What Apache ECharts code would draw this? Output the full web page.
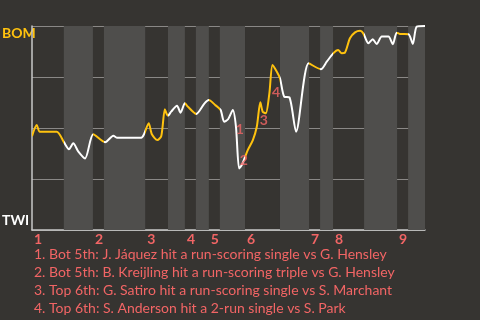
<!DOCTYPE html>
<html><head><meta charset="utf-8">
<style>html,body{margin:0;padding:0;background:#363431;}#c{width:480px;height:320px;}</style>
<script src="https://cdn.jsdelivr.net/npm/echarts@6/dist/echarts.min.js"></script>
</head><body><div id="c"></div>
<script>
// Game progress (0-100) and BOM win probability
const progress = [0,1.2,2.0,6.3,8.2,9.4,10.5,11.8,13.5,15.6,18.6,20.7,21.7,27.8,28.5,29.7,30.5,31.9,32.9,33.8,34.2,34.6,35.4,36.9,37.8,38.9,39.7,41.8,43.9,45.0,46.6,48.0,48.9,49.9,51.1,51.9,52.7,53.4,54.9,56.2,57.2,58.1,58.7,59.5,60.4,61.2,62.3,63.1,64.2,65.5,67.2,70.4,73.5,75.0,76.7,77.9,78.8,79.6,80.9,82.2,83.5,84.3,85.6,86.7,87.7,89.0,90.7,91.8,92.8,93.6,95.8,96.9,97.9,100];
const bomWinProb = [0.46,0.515,0.482,0.482,0.428,0.396,0.425,0.384,0.351,0.469,0.430,0.462,0.452,0.452,0.469,0.523,0.469,0.441,0.461,0.592,0.572,0.560,0.580,0.609,0.575,0.621,0.604,0.569,0.621,0.637,0.613,0.588,0.531,0.543,0.588,0.506,0.302,0.319,0.392,0.441,0.506,0.626,0.580,0.572,0.670,0.809,0.776,0.744,0.653,0.650,0.482,0.817,0.788,0.825,0.867,0.882,0.867,0.869,0.940,0.969,0.977,0.964,0.915,0.935,0.912,0.948,0.948,0.911,0.967,0.961,0.960,0.912,0.997,1.0];
// Half-inning boundaries (top of 1 ... bottom of 9)
const halfInningStarts = [0,8.1,15.5,18.3,28.8,34.6,38.9,41.7,45.0,47.8,54.2,63.1,70.5,73.3,76.6,84.5,92.9,95.7];
const gameEnd = 100;
const inningLabels = ['1','2','3','4','5','6','7','8','9'];
// Key play annotations
const eventNums = ['1','2','3','4'];
const eventX = [52.9,53.9,59.0,62.1];
const eventY = [0.495,0.343,0.539,0.676];
const eventTexts = [
  '1. Bot 5th: J. Jáquez hit a run-scoring single vs G. Hensley',
  '2. Bot 5th: B. Kreijling hit a run-scoring triple vs G. Hensley',
  '3. Top 6th: G. Satiro hit a run-scoring single vs S. Marchant',
  '4. Top 6th: S. Anderson hit a 2-run single vs S. Park'
];
const teamTop = 'BOM', teamBottom = 'TWI';

const YELLOW = '#ffc20e', WHITE = '#ffffff', RED = '#f26565';
const FONT = 'Lato';

const bands = [], pieces = [];
for (let i = 0; i < halfInningStarts.length; i++) {
  const a = halfInningStarts[i], b = i + 1 < halfInningStarts.length ? halfInningStarts[i+1] : gameEnd;
  const top = i % 2 === 0;
  if (!top) bands.push([{xAxis: a}, {xAxis: b}]);
  pieces.push({gte: a, lt: (i + 1 < halfInningStarts.length ? b : gameEnd + 1), color: top ? YELLOW : WHITE});
}
const inningStarts = halfInningStarts.filter((v, i) => i % 2 === 0);

const chart = echarts.init(document.getElementById('c'), null, {renderer: 'canvas'});
chart.setOption({
  backgroundColor: '#363431',
  animation: false,
  grid: {left: 32, right: 55, top: 26, bottom: 90},
  xAxis: {
    type: 'value', min: 0, max: gameEnd,
    axisLine: {show: true, lineStyle: {color: '#c8c8c8', width: 1.5}},
    axisTick: {show: false},
    splitLine: {show: false},
    axisLabel: {
      customValues: inningStarts,
      formatter: (v) => inningLabels[inningStarts.findIndex(s => Math.abs(s - v) < 1e-6)] || '',
      color: RED, fontFamily: FONT, fontWeight: 'bold', fontSize: 14, align: 'left', margin: 2,
      padding: [0,0,0,2]
    }
  },
  yAxis: {
    type: 'value', min: 0, max: 1, interval: 0.25,
    axisLine: {show: true, lineStyle: {color: '#c8c8c8', width: 1.5}},
    axisTick: {show: false},
    axisLabel: {show: false},
    splitLine: {show: true, lineStyle: {color: '#8a8886', width: 1.2}}
  },
  visualMap: {show: false, type: 'piecewise', dimension: 0, seriesIndex: 0, pieces: pieces},
  series: [
    {
      type: 'line',
      data: progress.map((x, i) => [x, bomWinProb[i]]),
      showSymbol: false, smooth: 0.25,
      lineStyle: {width: 2},
      markArea: {silent: true, itemStyle: {color: '#4f4e4c'}, data: bands},
      z: 5
    },
    {
      type: 'scatter', symbolSize: 1, itemStyle: {color: 'rgba(0,0,0,0)'},
      data: eventX.map((x, i) => [x, eventY[i], eventNums[i]]),
      label: {show: true, position: 'inside', formatter: p => p.data[2], color: RED, fontFamily: FONT, fontWeight: 'bold', fontSize: 14},
      z: 20
    }
  ],
  graphic: [
    {type: 'text', left: 2, top: 26, style: {text: teamTop, fill: YELLOW, font: 'bold 14px ' + FONT}},
    {type: 'text', left: 2, top: 213, style: {text: teamBottom, fill: WHITE, font: 'bold 14px ' + FONT}},
    {type: 'text', left: 34, top: 245, style: {text: eventTexts.join('\n'), fill: RED, font: '14px ' + FONT, lineHeight: 18}}
  ]
});
</script></body></html>
